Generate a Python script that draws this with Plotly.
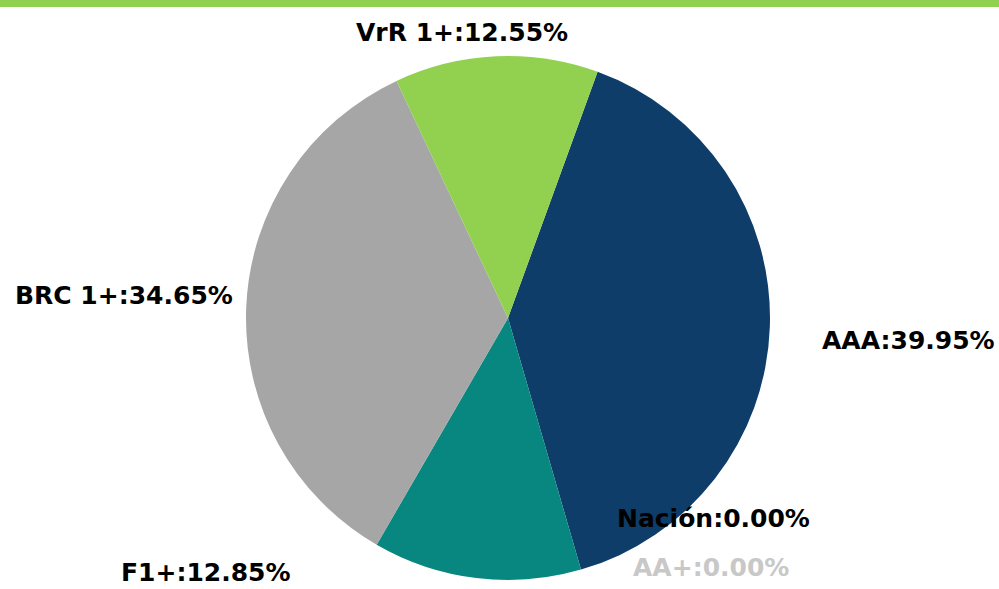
import plotly.graph_objects as go

labels = ["AAA", "Nación", "AA+", "F1+", "BRC 1+", "VrR 1+"]
values = [39.95, 0.00, 0.00, 12.85, 34.65, 12.55]
colors = ["#0F3D69", "#1F77B4", "#C8C8C8", "#07877F", "#A6A6A6", "#92D050"]
label_colors = ["#000000", "#000000", "#C8C8C8", "#000000", "#000000", "#000000"]

W, H = 999, 589
cx, cy, R = 508, 318, 262

fig = go.Figure(go.Pie(
    labels=labels,
    values=values,
    sort=False,
    direction="clockwise",
    rotation=20,
    marker=dict(colors=colors, line=dict(width=0)),
    textinfo="none",
    hoverinfo="label+percent",
    showlegend=False,
    domain=dict(x=[(cx - R) / W, (cx + R) / W], y=[1 - (cy + R) / H, 1 - (cy - R) / H]),
))

# label anchor positions (pixel centres) for each slice's outside label
label_pos = {
    "AAA": (908, 340),
    "Nación": (713, 518),
    "AA+": (711, 567),
    "F1+": (206, 572),
    "BRC 1+": (124, 295),
    "VrR 1+": (462, 33),
}

for lab, val, col in zip(labels, values, label_colors):
    px, py = label_pos[lab]
    fig.add_annotation(
        x=px / W, y=1 - py / H, xref="paper", yref="paper",
        text=f"<b>{lab}:{val:.2f}%</b>", showarrow=False,
        xanchor="center", yanchor="middle",
        font=dict(family="DejaVu Sans", size=25, color=col),
    )

# top green band
fig.add_shape(type="rect", xref="paper", yref="paper",
              x0=0, x1=1, y0=1 - 7 / H, y1=1.0,
              fillcolor="#92D050", line=dict(width=0), layer="above")

fig.update_layout(
    width=W, height=H,
    margin=dict(l=0, r=0, t=0, b=0),
    paper_bgcolor="white", plot_bgcolor="white",
)

fig.write_html(
    "out.html",
    config={"displayModeBar": False},
    post_script="document.body.style.margin='0';document.body.style.overflow='hidden';",
)
